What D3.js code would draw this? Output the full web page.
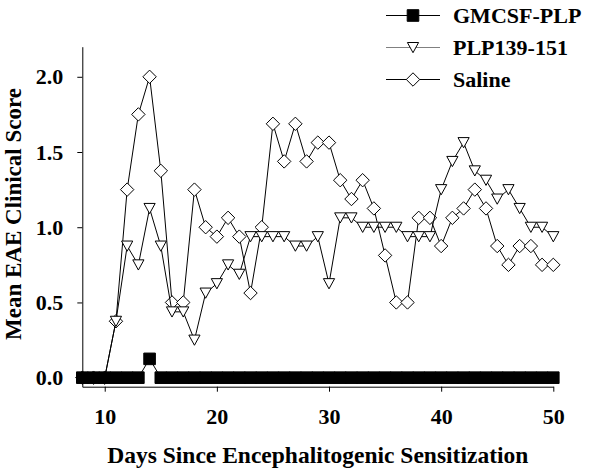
<!DOCTYPE html>
<html>
<head>
<meta charset="utf-8">
<script src="https://cdn.jsdelivr.net/npm/d3@7"></script>
<style>
  html, body { margin: 0; padding: 0; background: #fff; }
  svg { display: block; }
  text { font-family: "Liberation Serif", "Times New Roman", serif; font-weight: bold; fill: #000; }
</style>
</head>
<body>
<svg id="chart" width="600" height="473"></svg>
<script>
// ---- data ----
const days = [8, 9, 10, 11, 12, 13, 14, 15, 16, 17, 18, 19, 20, 21, 22, 23, 24, 25, 26, 27, 28, 29,
              30, 31, 32, 33, 34, 35, 36, 37, 38, 39, 40, 41, 42, 43, 44, 45, 46, 47, 48, 49, 50];
const gmcsfPLP = [0, 0, 0, 0, 0, 0, 0.125, 0, 0, 0, 0, 0, 0, 0, 0, 0, 0, 0, 0, 0, 0, 0,
                  0, 0, 0, 0, 0, 0, 0, 0, 0, 0, 0, 0, 0, 0, 0, 0, 0, 0, 0, 0, 0];
const plp139 = [0, 0, 0, 0.375, 0.875, 0.75, 1.125, 0.875, 0.4375, 0.4375, 0.25, 0.5625, 0.625, 0.75,
                0.6875, 0.9375, 0.9375, 0.9375, 0.9375, 0.875, 0.875, 0.9375, 0.625, 1.0625, 1.0625,
                1.0, 1.0, 1.0, 1.0, 0.9375, 0.9375, 0.9375, 1.25, 1.4375, 1.5625, 1.375, 1.3125,
                1.1875, 1.25, 1.125, 1.0, 1.0, 0.9375];
const saline = [0, 0, 0, 0.375, 1.25, 1.75, 2.0, 1.375, 0.5, 0.5, 1.25, 1.0, 0.9375, 1.0625, 0.9375,
                0.5625, 1.0, 1.6875, 1.4375, 1.6875, 1.4375, 1.5625, 1.5625, 1.3125, 1.1875, 1.3125,
                1.125, 0.8125, 0.5, 0.5, 1.0625, 1.0625, 0.875, 1.0625, 1.125, 1.25, 1.125, 0.875,
                0.75, 0.875, 0.875, 0.75, 0.75];
const seriesNames = ["GMCSF-PLP", "PLP139-151", "Saline"];
const xTicks = [10, 20, 30, 40, 50];
const yTicks = [0.0, 0.5, 1.0, 1.5, 2.0];
const xTitle = "Days Since Encephalitogenic Sensitization";
const yTitle = "Mean EAE Clinical Score";

// ---- layout ----
const svg = d3.select("#chart");
const x = d3.scaleLinear().domain([8, 50]).range([82.3, 553.3]);
const y = d3.scaleLinear().domain([-0.06, 2.2]).range([386.7, 46.7]);

// symbol path generators (centered at 0,0)
const shapes = {
  square: "M-5.8,-5.8H5.8V5.8H-5.8Z",
  triangle: "M-5.6,-5H5.6L0,5.2Z",
  diamond: "M0,-6.7L6.7,0L0,6.7L-6.7,0Z"
};

const series = [
  { name: seriesNames[2], values: saline, shape: "diamond", fill: "#fff", legendLine: "#000" },
  { name: seriesNames[1], values: plp139, shape: "triangle", fill: "#fff", legendLine: "#808080" },
  { name: seriesNames[0], values: gmcsfPLP, shape: "square", fill: "#000", legendLine: "#000" }
];

const line = d3.line().x((d, i) => x(days[i])).y(d => y(d));
const plot = svg.append("g");

series.forEach(s => {
  const g = plot.append("g");
  g.append("path").attr("d", line(s.values)).attr("fill", "none")
    .attr("stroke", "#000").attr("stroke-width", 1);
  g.selectAll("path.m").data(s.values).join("path").attr("class", "m")
    .attr("d", shapes[s.shape])
    .attr("transform", (d, i) => `translate(${x(days[i])},${y(d)})`)
    .attr("fill", s.fill).attr("stroke", "#000").attr("stroke-width", 1);
});

// ---- axes ----
const xAxis = d3.axisBottom(x).tickValues(xTicks).tickSize(5).tickSizeOuter(0).tickPadding(17);
const yAxis = d3.axisLeft(y).tickValues(yTicks).tickFormat(d3.format(".1f")).tickSize(5).tickSizeOuter(0).tickPadding(14);

const gx = svg.append("g").attr("transform", `translate(0,${y.range()[0]})`).call(xAxis);
const gy = svg.append("g").attr("transform", `translate(${x.range()[0]},0)`).call(yAxis);
[gx, gy].forEach(g => {
  g.selectAll("path.domain").attr("stroke", "#000").attr("stroke-width", 1);
  g.selectAll(".tick line").attr("stroke", "#000").attr("stroke-width", 1);
  g.selectAll(".tick text").style("font-family", '"Liberation Serif", "Times New Roman", serif')
    .style("font-weight", "bold").style("font-size", "22px").attr("fill", "#000");
});

svg.append("text").attr("x", (x.range()[0] + x.range()[1]) / 2).attr("y", 463)
  .attr("text-anchor", "middle").style("font-size", "23.5px").text(xTitle);
svg.append("text").attr("transform", "translate(21,214) rotate(-90)")
  .attr("text-anchor", "middle").style("font-size", "23px").text(yTitle);

// ---- legend ----
const legendOrder = [series[2], series[1], series[0]];
const lg = svg.append("g");
legendOrder.forEach((s, i) => {
  const cy = 15.5 + i * 32;
  lg.append("line").attr("x1", 386).attr("x2", 440).attr("y1", cy).attr("y2", cy)
    .attr("stroke", s.legendLine).attr("stroke-width", 1.2);
  lg.append("path").attr("d", shapes[s.shape]).attr("transform", `translate(413,${cy})`)
    .attr("fill", s.fill).attr("stroke", "#000").attr("stroke-width", 1);
  lg.append("text").attr("x", 453).attr("y", cy + 7.3).style("font-size", "22px").text(s.name);
});
</script>
</body>
</html>
